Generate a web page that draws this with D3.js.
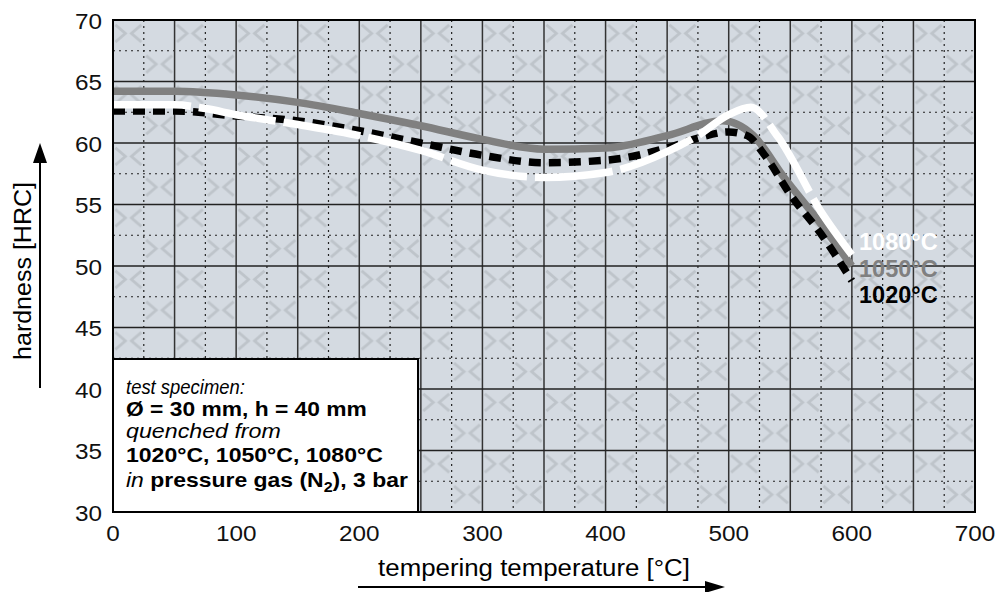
<!DOCTYPE html>
<html lang="en">
<head>
  <meta charset="UTF-8">
  <title>Hardness vs tempering temperature</title>
  <script src="https://d3js.org/d3.v7.min.js"></script>
  <style>
    body { margin: 0; background: #fff; }
    svg text { font-family: 'Liberation Sans', Arial, sans-serif; }
  </style>
</head>
<body>
  <div id="chart"></div>
  <script>
    // data (tempering temperature in °C, hardness in HRC)
    const temps1020 = [0, 50, 100, 150, 200, 250, 300, 350, 400, 450, 475, 500, 515, 530, 550, 575, 600];
    const hrc1020   = [62.6, 62.6, 62.2, 61.8, 61.0, 60.0, 59.0, 58.4, 58.6, 59.6, 60.4, 60.9, 60.6, 58.9, 55.8, 52.6, 48.8];

    const temps1050 = [0, 50, 100, 150, 200, 250, 300, 350, 400, 450, 495, 520, 545, 575, 600];
    const hrc1050   = [64.2, 64.2, 63.9, 63.3, 62.4, 61.4, 60.3, 59.5, 59.6, 60.6, 61.8, 60.6, 57.2, 53.4, 50.0];

    const temps1080 = [0, 50, 75, 100, 150, 200, 250, 300, 350, 400, 450, 475, 500, 518, 540, 575, 600];
    const hrc1080   = [63.1, 63.1, 62.8, 62.3, 61.5, 60.6, 59.4, 57.8, 57.2, 57.6, 59.3, 60.6, 62.3, 62.9, 60.5, 54.4, 50.9];

    const xTicks = [0, 100, 200, 300, 400, 500, 600, 700];
    const yTicks = [30, 35, 40, 45, 50, 55, 60, 65, 70];
    const seriesNames = ["1080°C", "1050°C", "1020°C"];

    const width = 997, height = 592;
    const svg = d3.select("#chart").append("svg")
      .attr("width", width).attr("height", height);

    const x = d3.scaleLinear().domain([0, 700]).range([113, 975]);
    const y = d3.scaleLinear().domain([30, 70]).range([512, 20]);

    // background pattern: grey-blue with faint "><" marks
    const cw = x(50) - x(0), ch = y(30) - y(35);
    const pat = svg.append("defs").append("pattern")
      .attr("id", "bg")
      .attr("patternUnits", "userSpaceOnUse")
      .attr("x", x(0)).attr("y", y(70))
      .attr("width", cw).attr("height", ch);
    pat.append("rect").attr("width", cw).attr("height", ch).attr("fill", "#d4dae1");
    [[cw / 4, ch / 4 - 2], [3 * cw / 4, 3 * ch / 4 - 2]].forEach(([cx, cy]) => {
      pat.append("path")
        .attr("d", `M${cx - 13},${cy - 8.5}L${cx - 3},${cy}L${cx - 13},${cy + 8.5}M${cx + 13},${cy - 8.5}L${cx + 3},${cy}L${cx + 13},${cy + 8.5}`)
        .attr("fill", "none").attr("stroke", "#bec4ca").attr("stroke-width", 2.8);
    });

    svg.append("rect")
      .attr("x", x(0)).attr("y", y(70))
      .attr("width", x(700) - x(0)).attr("height", y(30) - y(70))
      .attr("fill", "url(#bg)");

    // grid
    const grid = svg.append("g");
    d3.range(25, 700, 50).forEach(v => {
      grid.append("line").attr("x1", x(v)).attr("x2", x(v)).attr("y1", y(70)).attr("y2", y(30))
        .attr("stroke", "#222").attr("stroke-width", 1.2).attr("stroke-dasharray", "2,4");
    });
    d3.range(32.5, 70, 5).forEach(v => {
      grid.append("line").attr("x1", x(0)).attr("x2", x(700)).attr("y1", y(v)).attr("y2", y(v))
        .attr("stroke", "#222").attr("stroke-width", 1.2).attr("stroke-dasharray", "2,4");
    });
    d3.range(50, 700, 50).forEach(v => {
      grid.append("line").attr("x1", x(v)).attr("x2", x(v)).attr("y1", y(70)).attr("y2", y(30))
        .attr("stroke", "#333").attr("stroke-width", 1.5);
    });
    d3.range(35, 70, 5).forEach(v => {
      grid.append("line").attr("x1", x(0)).attr("x2", x(700)).attr("y1", y(v)).attr("y2", y(v))
        .attr("stroke", "#222").attr("stroke-width", 1.5);
    });

    // curves
    const line = d3.line().x(d => x(d[0])).y(d => y(d[1])).curve(d3.curveMonotoneX);
    const curves = [
      { t: temps1050, v: hrc1050, color: "#808080", dash: null },
      { t: temps1020, v: hrc1020, color: "#000", dash: "12,8" },
      { t: temps1080, v: hrc1080, color: "#fff", dash: "78,8" }
    ];
    curves.forEach(c => {
      svg.append("path")
        .datum(d3.zip(c.t, c.v))
        .attr("d", line)
        .attr("fill", "none")
        .attr("stroke", c.color)
        .attr("stroke-width", 7.5)
        .attr("stroke-dasharray", c.dash);
    });

    // series labels
    const labelColors = ["#fff", "#808080", "#000"];
    seriesNames.forEach((s, i) => {
      svg.append("text")
        .attr("x", 859).attr("y", 250 + i * 26.5)
        .attr("font-size", 23.5).attr("font-weight", "bold")
        .attr("fill", labelColors[i])
        .text(s);
    });

    // info box
    svg.append("rect")
      .attr("x", x(0)).attr("y", 359)
      .attr("width", 305).attr("height", y(30) - 359)
      .attr("fill", "#fff").attr("stroke", "#000").attr("stroke-width", 2);

    // helper: text stretched horizontally to a target width
    function fitText(sel, targetW) {
      const w = sel.node().getComputedTextLength();
      const x0 = +sel.attr("x"), y0 = +sel.attr("y");
      sel.attr("x", 0).attr("y", 0)
        .attr("transform", `translate(${x0},${y0}) scale(${targetW / w},1)`);
    }

    const boxFont = 20;
    const t1 = svg.append("text").attr("x", 126).attr("y", 394).attr("font-size", boxFont)
      .attr("font-style", "italic").text("test specimen:");
    fitText(t1, 119);
    const t2 = svg.append("text").attr("x", 126).attr("y", 416).attr("font-size", boxFont)
      .attr("font-weight", "bold").text("Ø = 30 mm, h = 40 mm");
    fitText(t2, 241);
    const t3 = svg.append("text").attr("x", 126).attr("y", 438).attr("font-size", boxFont)
      .attr("font-style", "italic").text("quenched from");
    fitText(t3, 155);
    const t4 = svg.append("text").attr("x", 126).attr("y", 462).attr("font-size", boxFont)
      .attr("font-weight", "bold").text("1020°C, 1050°C, 1080°C");
    fitText(t4, 257);
    const t5 = svg.append("text").attr("x", 126).attr("y", 487).attr("font-size", boxFont);
    t5.append("tspan").attr("font-style", "italic").text("in ");
    t5.append("tspan").attr("font-weight", "bold").text("pressure gas (N");
    t5.append("tspan").attr("font-weight", "bold").attr("font-size", 14).attr("dy", 5).text("2");
    t5.append("tspan").attr("font-weight", "bold").attr("dy", -5).text("), 3 bar");
    fitText(t5, 282);

    // frame
    svg.append("rect")
      .attr("x", x(0)).attr("y", y(70))
      .attr("width", x(700) - x(0)).attr("height", y(30) - y(70))
      .attr("fill", "none").attr("stroke", "#000").attr("stroke-width", 2);

    // tick labels
    xTicks.forEach(v => {
      svg.append("text")
        .attr("transform", `translate(${x(v)},541) scale(1.08,1)`)
        .attr("text-anchor", "middle").attr("font-size", 22.5).attr("fill", "#111")
        .text(v);
    });
    yTicks.forEach(v => {
      svg.append("text")
        .attr("transform", `translate(102,${y(v) + 8.5}) scale(1.08,1)`)
        .attr("text-anchor", "end").attr("font-size", 22.5).attr("fill", "#111")
        .text(v);
    });

    // axis titles with arrows
    const xt = svg.append("text").attr("x", 0).attr("y", 0)
      .attr("font-size", 24).attr("text-anchor", "middle").text("tempering temperature [°C]");
    xt.attr("transform", `translate(534,576) scale(${312 / xt.node().getComputedTextLength()},1)`);

    const yt = svg.append("text").attr("x", 0).attr("y", 0)
      .attr("font-size", 24).attr("text-anchor", "middle").text("hardness [HRC]");
    yt.attr("transform", `translate(31,271) rotate(-90) scale(${178 / yt.node().getComputedTextLength()},1)`);

    svg.append("line").attr("x1", 358).attr("x2", 708).attr("y1", 587).attr("y2", 587)
      .attr("stroke", "#000").attr("stroke-width", 2);
    svg.append("path").attr("d", "M725,587L705,581L705,593Z").attr("fill", "#000");

    svg.append("line").attr("x1", 40).attr("x2", 40).attr("y1", 388).attr("y2", 160)
      .attr("stroke", "#000").attr("stroke-width", 2);
    svg.append("path").attr("d", "M40,143L33,163L47,163Z").attr("fill", "#000");
  </script>
</body>
</html>
